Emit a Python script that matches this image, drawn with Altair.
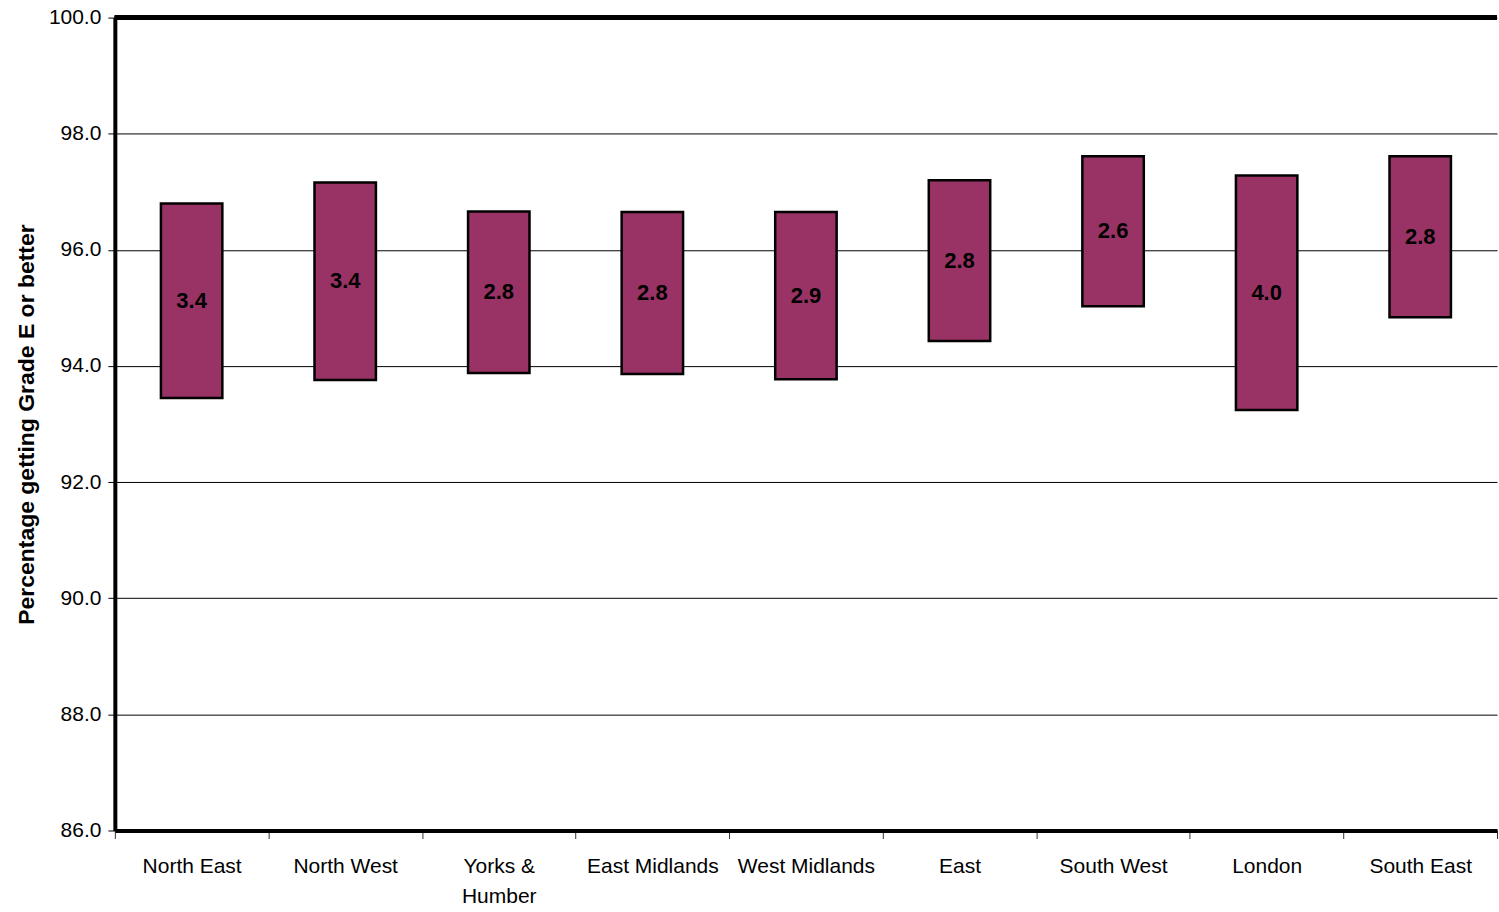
import altair as alt
import pandas as pd

regions = ["North East", "North West", "Yorks & Humber", "East Midlands", "West Midlands",
           "East", "South West", "London", "South East"]
low = [93.45, 93.76, 93.88, 93.86, 93.77, 94.43, 95.03, 93.24, 94.84]
high = [96.80, 97.16, 96.66, 96.65, 96.65, 97.20, 97.61, 97.28, 97.61]
labels = ["3.4", "3.4", "2.8", "2.8", "2.9", "2.8", "2.6", "4.0", "2.8"]
y_ticks = [86, 88, 90, 92, 94, 96, 98, 100]

W = 1384
H = 814

df = pd.DataFrame({"region": regions, "low": low, "high": high, "label": labels})

xenc = alt.X("region:N", sort=regions, title=None,
             scale=alt.Scale(paddingInner=0, paddingOuter=0),
             axis=alt.Axis(labelAngle=0, labelFontSize=21, labelFont="Liberation Sans",
                           labelColor="black", tickColor="#333333", tickSize=8, tickWidth=1,
                           tickBand="extent", domainWidth=4, domainColor="black",
                           labelPadding=17, labelLineHeight=30, grid=False,
                           labelExpr="datum.label == 'Yorks & Humber' ? ['Yorks &', 'Humber'] : datum.label"))

yscale = alt.Scale(domain=[86, 100], nice=False, zero=False)

bars = alt.Chart(df).mark_bar(color="#993366", stroke="black", strokeWidth=2.5,
                              width=alt.RelativeBandSize(0.4)).encode(
    x=xenc,
    y=alt.Y("low:Q", scale=yscale, title="Percentage getting Grade E or better",
            axis=alt.Axis(values=y_ticks, format=".1f", labelFontSize=21,
                          labelFont="Liberation Sans", labelColor="black",
                          tickSize=7, tickColor="black", labelPadding=7,
                          domainWidth=4, domainColor="black",
                          grid=True, gridColor="black", gridWidth=1,
                          titleFont="Liberation Sans", titleFontSize=23,
                          titleFontWeight="bold", titleColor="black", titlePadding=10)),
    y2="high:Q",
)

text = alt.Chart(df).transform_calculate(mid="(datum.low + datum.high) / 2").mark_text(
    font="Liberation Sans", fontSize=22,
    fontWeight="bold", color="black", baseline="middle", align="center"
).encode(
    x=alt.X("region:N", sort=regions),
    y=alt.Y("mid:Q", scale=yscale),
    text="label:N",
)

top = alt.Chart(df).mark_rule(color="black", strokeWidth=4).encode(
    x=alt.value(0), x2=alt.value(W), y=alt.value(0)
)

chart = alt.layer(bars, text, top).properties(
    width=W, height=H,
    padding={"left": 15, "top": 6, "right": 0, "bottom": 5},
).configure_view(stroke=None)

chart.save("out.html", embed_options={"renderer": "svg", "actions": False})
